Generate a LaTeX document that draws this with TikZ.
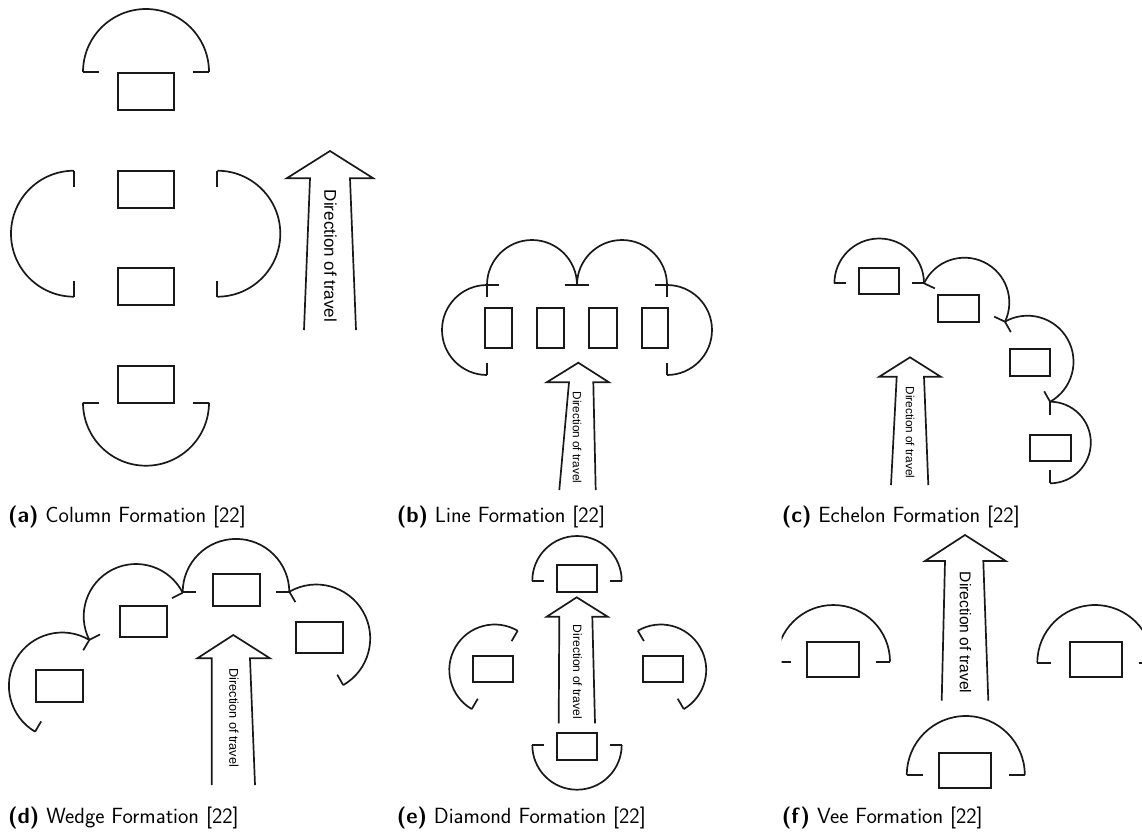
\documentclass[tikz,border=0pt]{standalone}
\usepackage{fontspec}
\newfontfamily\arialfont{Liberation Sans}
\tikzset{
  sensor/.style={line width=1.7pt, black!90, line cap=butt},
  robot/.style={line width=1.7pt, black!90},
  travel/.style={line width=1.7pt, black!90, line join=miter},
  dirtext/.style={inner sep=0pt, rotate=-90},
  caption/.style={inner sep=0pt, anchor=base west, font=\sffamily\fontsize{22}{26}\selectfont}
}
% centre x, centre y, radius, start angle, end angle (math sense), tick length
\newcommand\sensorunit[6]{%
  \draw[sensor] (#1,#2) ++({-(#4)}:#3) arc[start angle={-(#4)}, end angle={-(#5)}, radius=#3];
  \draw[sensor] (#1,#2) ++({-(#4)}:{#3-#6}) -- ++({-(#4)}:#6);
  \draw[sensor] (#1,#2) ++({-(#5)}:{#3-#6}) -- ++({-(#5)}:#6);
}
\begin{document}
\begin{tikzpicture}[x=1pt,y=-1pt]
\fill[white] (0,0) rectangle (1142,831);
\useasboundingbox (0,0) rectangle (1142,831);

% ---------------- (a) Column ----------------
\draw[robot] (117.7,72.7) rectangle (173.7,110);
\draw[robot] (117.7,170.7) rectangle (173.7,207.7);
\draw[robot] (117.7,268.3) rectangle (173.7,305);
\draw[robot] (117.7,365.7) rectangle (173.7,402.7);
\sensorunit{146}{72}{63}{180}{0}{16}
\sensorunit{146}{402.7}{63}{180}{360}{16}
\sensorunit{74}{233.7}{63}{90}{270}{16}
\sensorunit{217.3}{233.7}{63}{90}{-90}{16}
\draw[travel] (304,330) -- (310,178.3) -- (286.7,178.3) -- (330,151) -- (373.3,178.3) -- (350,178.3) -- (356,330);
\node[dirtext, font=\arialfont\fontsize{17}{17}\selectfont] (ta) at (330.5,256) {Direction of travel};

% ---------------- (b) Line ----------------
\draw[robot] (485,308.3) rectangle (512.3,348.3);
\draw[robot] (536.7,308.3) rectangle (564.3,348.3);
\draw[robot] (589.3,308.3) rectangle (616.7,348.3);
\draw[robot] (641.7,308.3) rectangle (668.3,348.3);
\sensorunit{532}{285}{45}{180}{0}{12}
\sensorunit{622}{285}{45}{180}{0}{12}
\sensorunit{487}{330}{45}{90}{270}{12}
\sensorunit{667}{330}{45}{90}{-90}{12}
\draw[travel] (559.3,490) -- (569,382.3) -- (546.7,382.3) -- (578.3,362.7) -- (609,382.3) -- (593.3,382.3) -- (595.7,490);
\node[dirtext, font=\arialfont\fontsize{11.8}{12}\selectfont] (tb) at (577,437.5) {Direction of travel};

% ---------------- (c) Echelon ----------------
\draw[robot] (859.3,267.7) rectangle (899.3,294.3);
\draw[robot] (938.3,295) rectangle (979,321.7);
\draw[robot] (1010,349.3) rectangle (1050,376);
\draw[robot] (1030,435) rectangle (1070.7,461.3);
\sensorunit{879.2}{283.3}{44.8}{180}{0}{12}
\sensorunit{964.5}{302.5}{44.8}{154.6}{-25.4}{12}
\sensorunit{1027.5}{361.7}{46}{119.4}{-60.6}{12}
\sensorunit{1050}{442.5}{40.8}{90}{-90}{13}
\draw[travel] (891,485) -- (896.7,376.7) -- (879.3,376.7) -- (910,357.3) -- (940.7,376.7) -- (924,376.7) -- (928.3,485);
\node[dirtext, font=\arialfont\fontsize{11.8}{12}\selectfont] (tc) at (910,432.5) {Direction of travel};

% ---------------- (d) Wedge ----------------
\draw[robot] (36,670) rectangle (83.3,701.7);
\draw[robot] (120,605.7) rectangle (166.7,636.7);
\draw[robot] (212.7,574) rectangle (260,605.7);
\draw[robot] (295.7,622.3) rectangle (342.7,653.3);
\sensorunit{62.2}{685.8}{53.3}{59.4}{239.4}{12}
\sensorunit{136}{616.3}{52.3}{26.8}{206.8}{12}
\sensorunit{236}{592.2}{53.3}{180}{0}{13}
\sensorunit{316.3}{638.4}{53.9}{120}{-60}{12}
\draw[travel] (211.7,785) -- (211.7,658.3) -- (197.3,658.3) -- (233.3,635) -- (270,658.3) -- (250,658.3) -- (255,785);
\node[dirtext, font=\arialfont\fontsize{12.7}{13}\selectfont] (td) at (234,717.8) {Direction of travel};

% ---------------- (e) Diamond ----------------
\draw[robot] (556.7,565) rectangle (597.3,591.7);
\draw[robot] (472.7,655.7) rectangle (512.7,682.3);
\draw[robot] (643.3,655.7) rectangle (683.3,682.3);
\draw[robot] (556.7,733.3) rectangle (597.3,760);
\sensorunit{577}{580.7}{44.7}{180}{0}{12}
\sensorunit{577}{745}{44.7}{180}{360}{12}
\sensorunit{494.7}{669.9}{45.4}{59.6}{239.6}{12}
\sensorunit{660.8}{669.9}{45.4}{120.4}{-59.6}{12}
\draw[travel] (558.7,723.3) -- (559.3,616.7) -- (546.7,616.7) -- (576.7,597.3) -- (607.7,616.7) -- (592.3,616.7) -- (595,723.3);
\node[dirtext, font=\arialfont\fontsize{12.1}{12}\selectfont] (te) at (577.5,672) {Direction of travel};

% ---------------- (f) Vee ----------------
\draw[robot] (806.7,642.3) rectangle (859,677.3);
\draw[robot] (1070,642.3) rectangle (1121.7,677.3);
\draw[robot] (939.3,753.3) rectangle (991,788.3);
\begin{scope}
\clip (781.7,520) rectangle (1142,800);
\sensorunit{833.3}{661.7}{56.7}{180}{0}{14}
\sensorunit{1095}{662.7}{57.7}{180}{0}{14}
\end{scope}
\sensorunit{965.8}{775}{59}{180}{0}{16}
\draw[travel] (941.7,700.7) -- (945,561) -- (925,561) -- (965,535) -- (1005.7,561) -- (983.3,561) -- (988.3,700.7);
\node[dirtext, font=\arialfont\fontsize{15.6}{16}\selectfont] (tf) at (965.5,632.5) {Direction of travel};

% ---------------- captions ----------------
\node[caption] (capa) at (8,522.5) {\textbf{(a)} Column Formation [22]};
\node[caption] (capb) at (396.7,522.5) {\textbf{(b)} Line Formation [22]};
\node[caption] (capc) at (781.7,522.5) {\textbf{(c)} Echelon Formation [22]};
\node[caption] (capd) at (8,823) {\textbf{(d)} Wedge Formation [22]};
\node[caption] (cape) at (396.7,823) {\textbf{(e)} Diamond Formation [22]};
\node[caption] (capf) at (781.7,823) {\textbf{(f)} Vee Formation [22]};
\end{tikzpicture}
\end{document}
